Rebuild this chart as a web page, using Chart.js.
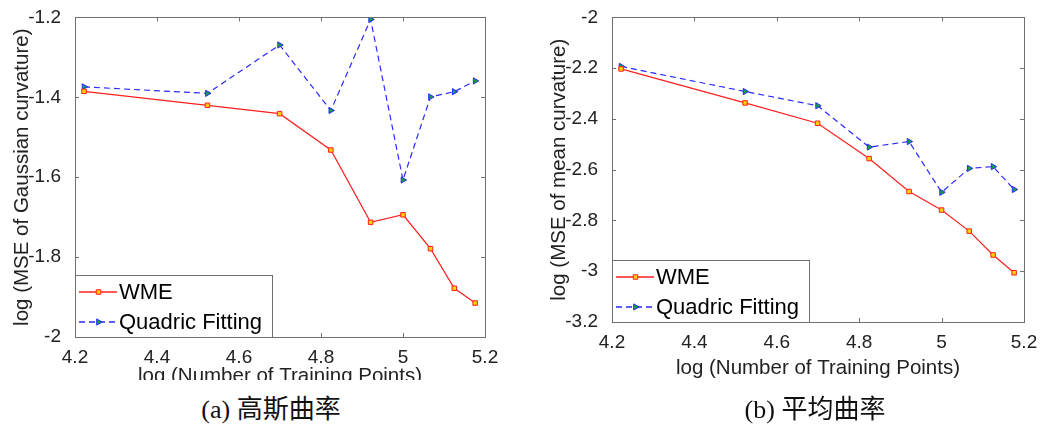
<!DOCTYPE html>
<html>
<head>
<meta charset="utf-8">
<script src="https://cdn.jsdelivr.net/npm/chart.js@4/dist/chart.umd.min.js"></script>
<style>
  body { margin: 0; background: #fff; width: 1042px; height: 427px; overflow: hidden; position: relative; }
  .panel { position: absolute; top: 0; overflow: hidden; }
  .caption {
    position: absolute; top: 393px; width: 300px; text-align: center;
    font-family: "Liberation Serif", "Noto Sans CJK SC", serif; font-size: 26px; line-height: 34px; color: #111;
  }
</style>
</head>
<body>
<div class="panel" style="left:0;width:520px;height:380px"><canvas id="gauss" width="520" height="400"></canvas></div>
<div class="panel" style="left:520px;width:522px;height:400px"><canvas id="mean" width="522" height="400"></canvas></div>
<div class="caption" style="left:121px">(a) 高斯曲率</div>
<div class="caption" style="left:665px">(b) 平均曲率</div>
<script>
// log10 of number of training points
const trainingLog = [4.222, 4.523, 4.699, 4.824, 4.921, 5.0, 5.067, 5.125, 5.176];

// log MSE of Gaussian curvature
const gaussWME  = [-1.385, -1.420, -1.441, -1.532, -1.713, -1.694, -1.779, -1.878, -1.915];
const gaussQuad = [-1.374, -1.390, -1.269, -1.433, -1.205, -1.607, -1.399, -1.386, -1.359];

// log MSE of mean curvature
const meanWME  = [-2.203, -2.337, -2.417, -2.556, -2.686, -2.759, -2.842, -2.936, -3.006];
const meanQuad = [-2.193, -2.292, -2.348, -2.511, -2.489, -2.689, -2.595, -2.588, -2.678];

const xTicks = [4.2, 4.4, 4.6, 4.8, 5.0, 5.2];
const gaussTicks = [-2, -1.8, -1.6, -1.4, -1.2];
const meanTicks = [-3.2, -3, -2.8, -2.6, -2.4, -2.2, -2];

const seriesNames = ['WME', 'Quadric Fitting'];

const FONT = '"Liberation Sans", Arial, sans-serif';
const BOX = '#707070';
const fmt = v => String(Math.round(v * 10) / 10);

// line + marker look of the two methods, shared by the plot and the legend
const styles = [
  { line: '#ff2020', dash: [], marker: 'rect', rot: 0, r: 3.2, fill: '#ffd000', edge: '#ff2020' },
  { line: '#2a2aff', dash: [6, 4], marker: 'triangle', rot: 90, r: 3.6, fill: '#10a040', edge: '#2a2aff' }
];

// MATLAB-like box with inward ticks on all four sides
const framePlugin = {
  id: 'frame',
  afterDatasetsDraw(chart) {
    const { ctx, chartArea: a, scales } = chart;
    ctx.save();
    ctx.strokeStyle = BOX;
    ctx.lineWidth = 1;
    ctx.setLineDash([]);
    ctx.strokeRect(Math.round(a.left) + 0.5, Math.round(a.top) + 0.5,
      Math.round(a.right - a.left), Math.round(a.bottom - a.top));
    const len = 4;
    ctx.beginPath();
    scales.x.ticks.forEach(t => {
      const px = Math.round(scales.x.getPixelForValue(t.value)) + 0.5;
      ctx.moveTo(px, a.bottom); ctx.lineTo(px, a.bottom - len);
      ctx.moveTo(px, a.top); ctx.lineTo(px, a.top + len);
    });
    scales.y.ticks.forEach(t => {
      const py = Math.round(scales.y.getPixelForValue(t.value)) + 0.5;
      ctx.moveTo(a.left, py); ctx.lineTo(a.left + len, py);
      ctx.moveTo(a.right, py); ctx.lineTo(a.right - len, py);
    });
    ctx.stroke();
    ctx.restore();
  }
};

// legend box in the lower left corner of the plot
const legendPlugin = {
  id: 'boxLegend',
  afterDraw(chart) {
    const { ctx, chartArea: a } = chart;
    const w = 197, h = 62;
    const left = Math.round(a.left), top = Math.round(a.bottom - h);
    ctx.save();
    ctx.fillStyle = '#fff';
    ctx.fillRect(left, top, w, h);
    ctx.strokeStyle = BOX;
    ctx.lineWidth = 1;
    ctx.strokeRect(left + 0.5, top + 0.5, w, h);
    seriesNames.forEach((name, i) => {
      const st = styles[i];
      const y = Math.round(a.bottom - 45 + i * 30);
      ctx.save();
      ctx.strokeStyle = st.line;
      ctx.lineWidth = 1.3;
      ctx.setLineDash(st.dash);
      ctx.beginPath();
      ctx.moveTo(left + 4, y);
      ctx.lineTo(left + 42, y);
      ctx.stroke();
      ctx.setLineDash([]);
      ctx.fillStyle = st.fill;
      ctx.strokeStyle = st.edge;
      ctx.lineWidth = 1;
      Chart.helpers.drawPoint(ctx, { pointStyle: st.marker, rotation: st.rot, radius: st.r, borderWidth: 1 }, left + 23.5, y);
      ctx.restore();
      ctx.fillStyle = '#000';
      ctx.font = '22px ' + FONT;
      ctx.textBaseline = 'middle';
      ctx.fillText(name, left + 44, y + 1);
    });
    ctx.restore();
  }
};

function makeChart(id, wme, quad, yTicks, yTitle, box) {
  const pts = arr => trainingLog.map((x, i) => ({ x, y: arr[i] }));
  const dataset = (i, arr) => {
    const st = styles[i];
    return {
      label: seriesNames[i], data: pts(arr),
      borderColor: st.line, borderWidth: 1.2, borderDash: st.dash,
      pointStyle: st.marker, pointRotation: st.rot, pointRadius: st.r,
      pointBackgroundColor: st.fill, pointBorderColor: st.edge, pointBorderWidth: 1
    };
  };
  return new Chart(document.getElementById(id), {
    type: 'line',
    data: { datasets: [dataset(0, wme), dataset(1, quad)] },
    options: {
      responsive: false,
      animation: false,
      devicePixelRatio: 1,
      layout: { padding: { top: 12, right: box.right, left: 0, bottom: 0 } },
      plugins: { legend: { display: false }, tooltip: { enabled: false } },
      scales: {
        x: {
          type: 'linear', min: 4.2, max: 5.2,
          afterBuildTicks: s => { s.ticks = xTicks.map(v => ({ value: v })); },
          afterFit: s => { s.height = box.xh; },
          grid: { display: false }, border: { display: false },
          ticks: { padding: 1, color: '#222', font: { family: FONT, size: 19 }, callback: fmt, maxRotation: 0 },
          title: { display: true, text: 'log (Number of Training Points)', color: '#222',
                   font: { family: FONT, size: 20.5 }, padding: { top: 0, bottom: box.xt } }
        },
        y: {
          min: yTicks[0], max: yTicks[yTicks.length - 1],
          afterBuildTicks: s => { s.ticks = yTicks.map(v => ({ value: v })); },
          afterFit: s => { s.width = box.yw; },
          grid: { display: false }, border: { display: false },
          ticks: { padding: 6, color: '#222', font: { family: FONT, size: 19 }, callback: fmt },
          title: { display: true, text: yTitle, color: '#222',
                   font: { family: FONT, size: 20.5 }, padding: { top: box.yt, bottom: 0 } }
        }
      }
    },
    plugins: [framePlugin, legendPlugin]
  });
}

makeChart('gauss', gaussWME, gaussQuad, gaussTicks, 'log (MSE of Gaussian curvature)',
  { right: 35, xh: 63, xt: 11, yw: 75, yt: 10 });
makeChart('mean', meanWME, meanQuad, meanTicks, 'log (MSE of mean curvature)',
  { right: 18, xh: 78, xt: 19.7, yw: 92, yt: 26.7 });
</script>
</body>
</html>
